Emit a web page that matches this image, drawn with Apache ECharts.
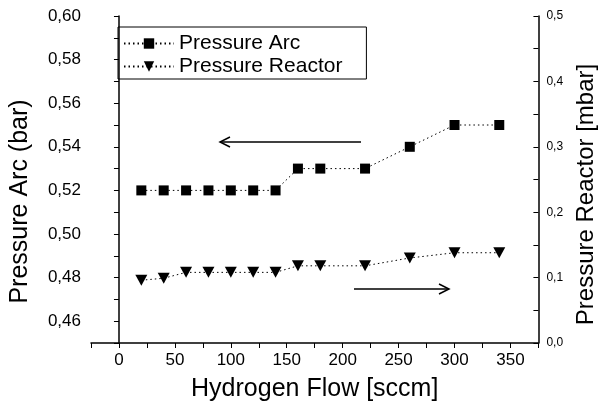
<!DOCTYPE html>
<html>
<head>
<meta charset="utf-8">
<script src="https://cdn.jsdelivr.net/npm/echarts@6/dist/echarts.min.js"></script>
<style>
  html, body { margin: 0; padding: 0; background: #fff; }
  #chart { width: 606px; height: 410px; }
</style>
</head>
<body>
<div id="chart"></div>
<script>
  const flow = [20, 40, 60, 80, 100, 120, 140, 160, 180, 220, 260, 300, 340]
  const arcPressure = [0.52, 0.52, 0.52, 0.52, 0.52, 0.52, 0.52, 0.53, 0.53, 0.53, 0.54, 0.55, 0.55]
  const reactorPressure = [0.096, 0.099, 0.108, 0.108, 0.108, 0.108, 0.108, 0.118, 0.118, 0.118, 0.13, 0.138, 0.138]

  const font = 'Liberation Sans'
  const comma = (v, d) => v.toFixed(d).replace('.', ',')
  const pairs = ys => flow.map((x, i) => [x, ys[i]])

  const myChart = echarts.init(document.getElementById('chart'))
  const option = {
    animation: false,
    textStyle: { fontFamily: font, color: '#000' },
    grid: { left: 91, right: 59, top: 16, bottom: 67 },
    legend: {
      orient: 'vertical',
      left: 118,
      top: 27,
      padding: [6, 24, 2, 5],
      itemGap: 2,
      itemWidth: 50,
      itemHeight: 13,
      borderColor: '#000',
      borderWidth: 1,
      textStyle: { fontSize: 21, color: '#000', fontFamily: font },
      data: ['Pressure Arc', 'Pressure Reactor'],
    },
    xAxis: {
      type: 'value',
      min: -25,
      max: 375,
      interval: 25,
      name: 'Hydrogen Flow [sccm]',
      nameLocation: 'middle',
      nameGap: 34,
      nameTextStyle: { fontSize: 25, color: '#000', fontFamily: font },
      axisLine: { show: true, lineStyle: { color: '#000', width: 1.5 } },
      axisTick: { show: true, length: 5, lineStyle: { color: '#000' } },
      axisLabel: {
        fontSize: 17, color: '#000', margin: 9,
        formatter: v => (Math.round(v) % 50 === 0 ? String(Math.round(v)) : ''),
      },
      splitLine: { show: false },
    },
    yAxis: [
      {
        type: 'value',
        min: 0.45,
        max: 0.6,
        interval: 0.01,
        name: 'Pressure Arc (bar)',
        nameLocation: 'middle',
        nameGap: 58,
        nameTextStyle: { fontSize: 25, color: '#000', fontFamily: font, padding: [0, 44, 0, 0] },
        axisLine: { show: true, lineStyle: { color: '#000', width: 1.5 } },
        axisTick: { show: true, length: 5, lineStyle: { color: '#000' } },
        axisLabel: {
          fontSize: 17, color: '#000', margin: 10,
          formatter: v => (Math.round(v * 100) % 2 === 0 ? comma(v, 2) : ''),
        },
        splitLine: { show: false },
      },
      {
        type: 'value',
        position: 'right',
        min: 0,
        max: 0.5,
        interval: 0.05,
        name: 'Pressure Reactor [mbar]',
        nameLocation: 'middle',
        nameGap: 34,
        nameRotate: 90,
        nameTextStyle: { fontSize: 24, color: '#000', fontFamily: font, padding: [0, 30, 0, 0] },
        axisLine: { show: true, lineStyle: { color: '#000', width: 1.5 } },
        axisTick: { show: true, inside: true, length: 5, lineStyle: { color: '#000' } },
        axisLabel: {
          fontSize: 12, color: '#000', margin: 8,
          formatter: v => (Math.round(v * 100) % 10 === 0 ? comma(v, 1) : ''),
        },
        splitLine: { show: false },
      },
    ],
    series: [
      {
        name: 'Pressure Arc',
        type: 'line',
        yAxisIndex: 0,
        data: pairs(arcPressure),
        symbol: 'rect',
        symbolSize: 10,
        itemStyle: { color: '#000' },
        lineStyle: { color: '#000', width: 1, type: [1.5, 3] },
      },
      {
        name: 'Pressure Reactor',
        type: 'line',
        yAxisIndex: 1,
        data: pairs(reactorPressure),
        symbol: 'triangle',
        symbolRotate: 180,
        symbolSize: [12, 11],
        itemStyle: { color: '#000' },
        lineStyle: { color: '#000', width: 1, type: [1.5, 3] },
      },
    ],
    graphic: [
      // direction arrows, drawn in pixels
      { type: 'line', shape: { x1: 361, y1: 142, x2: 220, y2: 142 }, style: { stroke: '#000', lineWidth: 1.5 } },
      { type: 'polyline', shape: { points: [[230, 137], [220, 142], [230, 147]] }, style: { stroke: '#000', lineWidth: 1.5, fill: null } },
      { type: 'line', shape: { x1: 354, y1: 289, x2: 449, y2: 289 }, style: { stroke: '#000', lineWidth: 1.5 } },
      { type: 'polyline', shape: { points: [[439, 284], [449, 289], [439, 294]] }, style: { stroke: '#000', lineWidth: 1.5, fill: null } },
    ],
  }
  option && myChart.setOption(option)
</script>
</body>
</html>
